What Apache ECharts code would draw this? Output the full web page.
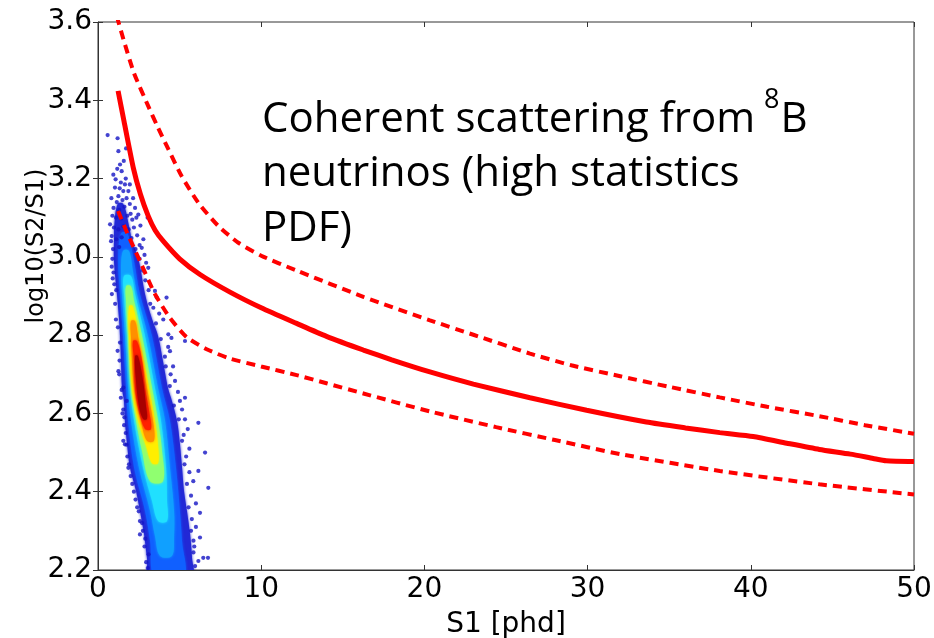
<!DOCTYPE html>
<html><head><meta charset="utf-8">
<script src="https://cdn.jsdelivr.net/npm/echarts@6/dist/echarts.min.js"></script>
<style>html,body{margin:0;padding:0;background:#fff}#c{width:934px;height:638px}</style>
</head><body><div id="c"></div>
<script>
// ---------- data ----------
const xTicks = [0, 10, 20, 30, 40, 50];
const yTicks = [2.2, 2.4, 2.6, 2.8, 3.0, 3.2, 3.4, 3.6];

// median (solid) and band (dashed) curves [S1, log10(S2/S1)]
const solidCurve = [[1.23,3.424],[1.6,3.345],[2.16,3.228],[2.6,3.160],[3.08,3.104],[3.5,3.068],[4.0,3.040],[5.0,2.995],[6.25,2.955],[8.09,2.910],[10,2.870],[12.17,2.830],[14,2.797],[16.26,2.762],[18,2.737],[20.34,2.706],[23,2.675],[26.47,2.640],[29.94,2.608],[33.6,2.578],[36,2.563],[38.1,2.551],[40.15,2.541],[42.2,2.524],[44.2,2.508],[46.1,2.496],[47.5,2.485],[48.3,2.479],[50,2.477]];
const upperDashed = [[1.15,3.615],[1.6,3.55],[2.2,3.47],[3.08,3.385],[3.59,3.338],[4.31,3.275],[5.13,3.206],[6.15,3.138],[7.37,3.079],[8.6,3.036],[10,3.003],[12.17,2.965],[16.26,2.898],[20.34,2.838],[23,2.801],[26.47,2.753],[29,2.723],[32,2.695],[35,2.668],[38.1,2.641],[41,2.617],[44.2,2.593],[47,2.570],[50,2.548]];
const lowerDashed = [[1.23,3.117],[1.8,3.06],[2.57,2.989],[3.49,2.905],[4.41,2.844],[5.43,2.795],[6.66,2.764],[8.09,2.740],[10,2.720],[12.17,2.698],[14,2.677],[16.26,2.651],[20.34,2.605],[24.4,2.565],[28,2.532],[32,2.496],[38.1,2.453],[44.2,2.419],[50,2.393]];

// density contours of the 8B PDF sample, outer -> inner; rows are [log10(S2/S1), S1 left, S1 right]
const contourBlue = [[3.135,1.20,1.55],[3.079,1.00,1.90],[3.040,0.98,2.10],[2.989,0.98,2.51],[2.905,1.16,2.88],[2.841,1.29,3.31],[2.798,1.35,3.68],[2.734,1.41,3.98],[2.665,1.47,4.29],[2.632,1.59,4.53],[2.581,1.65,4.84],[2.522,1.78,5.02],[2.461,1.96,5.15],[2.402,2.33,5.27],[2.351,2.57,5.45],[2.292,2.82,5.64],[2.231,3.00,5.76],[2.18,3.19,5.76]];
const contourMidBlue = [[3.060,1.41,1.80],[2.989,1.23,2.21],[2.905,1.35,2.57],[2.798,1.53,3.31],[2.665,1.72,3.92],[2.581,1.84,4.41],[2.461,2.21,4.78],[2.351,2.88,5.02],[2.274,3.19,5.15],[2.18,3.49,5.27]];
const contourLightBlue = [[3.015,1.53,1.90],[2.964,1.41,2.14],[2.905,1.47,2.39],[2.798,1.65,3.06],[2.665,1.84,3.68],[2.581,2.02,4.11],[2.461,2.51,4.41],[2.351,3.19,4.66],[2.287,3.49,4.66],[2.236,3.80,4.53]];
const contourCyan = [[2.951,1.59,2.02],[2.905,1.59,2.27],[2.798,1.78,2.88],[2.665,1.96,3.49],[2.581,2.21,3.86],[2.461,2.76,4.17],[2.376,3.31,4.23],[2.325,3.68,4.23]];
const contourGreen = [[2.925,1.72,2.02],[2.887,1.72,2.21],[2.798,1.84,2.70],[2.665,2.02,3.31],[2.581,2.33,3.68],[2.504,2.70,3.92],[2.427,3.19,3.98]];
const contourYellow = [[2.874,1.90,2.14],[2.798,1.90,2.51],[2.665,2.08,3.13],[2.581,2.45,3.49],[2.517,2.94,3.68],[2.473,3.31,3.68]];
const contourOrange = [[2.836,2.02,2.27],[2.798,2.02,2.45],[2.665,2.21,3.00],[2.581,2.63,3.37],[2.530,3.00,3.43]];
const contourRed = [[2.785,2.14,2.39],[2.734,2.21,2.70],[2.665,2.27,2.88],[2.606,2.51,3.13],[2.560,2.88,3.25]];
const contourDarkRed = [[2.747,2.27,2.45],[2.683,2.33,2.76],[2.619,2.51,2.94],[2.586,2.76,3.00]];

// sparse individual events around the dense region [S1, log10(S2/S1)]
const sparseEvents = [[0.59,3.311],[1.20,3.303],[1.25,3.27],[1.72,3.277],[1.35,3.236],[1.45,3.219],[0.94,3.21],[1.08,3.198],[1.65,3.185],[1.04,3.177],[1.55,3.168],[1.86,3.168],[1.25,3.155],[1.40,3.190],[1.15,3.140],[1.50,3.145],[1.75,3.150],[0.95,3.125],[1.30,3.120],[1.62,3.128],[1.95,3.135],[2.27,3.125],[2.47,3.108],[3.04,3.10],[1.10,3.100],[1.42,3.098],[1.80,3.105],[2.10,3.095],[0.74,3.083],[0.98,3.075],[1.25,3.070],[1.55,3.078],[1.88,3.070],[2.20,3.075],[0.84,3.053],[1.12,3.045],[1.45,3.050],[2.05,3.048],[2.40,3.055],[2.78,3.045],[0.92,3.020],[1.30,3.025],[2.30,3.020],[2.68,3.023],[0.88,2.995],[2.55,2.995],[3.08,2.972],[2.75,2.965],[0.95,2.960],[2.90,2.940],[1.00,2.930],[0.85,2.905],[3.10,2.915],
[1.33,3.175],[1.70,3.200],[1.18,3.225],[1.58,3.245],[0.82,3.150],[2.15,3.150],[2.00,3.110],[2.60,3.080],[0.88,3.105],[1.95,3.185],[2.35,3.100],[0.80,3.040],[2.55,3.030],[2.85,3.005],[2.95,2.985],[0.84,2.975],[0.90,2.945],
[3.49,2.913],[3.39,2.87],[3.6,2.896],[4.2,2.896],[4.0,2.84],[3.75,2.855],[4.31,2.802],[4.5,2.793],[4.3,2.77],[5.33,2.785],[4.41,2.759],[4.1,2.745],[4.72,2.683],[4.6,2.72],[4.45,2.70],[5.33,2.64],[4.9,2.655],[5.02,2.632],[5.15,2.61],[5.33,2.585],[6.15,2.576],[5.5,2.56],[5.25,2.545],[6.56,2.50],[5.6,2.51],[5.4,2.49],[6.15,2.453],[5.84,2.427],[5.6,2.45],[6.76,2.41],[5.7,2.39],[6.0,2.37],[6.25,2.346],[5.75,2.33],[6.0,2.31],[6.25,2.283],[5.9,2.26],[6.45,2.231],[6.74,2.231],[6.15,2.223],[5.95,2.21],[5.85,2.245],
[3.20,2.880],[3.55,2.830],[3.85,2.790],[4.15,2.720],[4.40,2.670],[4.65,2.620],[4.95,2.585],[5.15,2.530],[5.30,2.470],[5.45,2.420],[5.55,2.360],[5.70,2.300],[5.85,2.275],
[1.05,2.88],[1.10,2.84],[1.35,2.781],[1.20,2.76],[1.25,2.708],[1.32,2.735],[1.55,2.666],[1.40,2.64],[1.76,2.632],[1.50,2.60],[1.60,2.57],[1.65,2.521],[1.70,2.55],[1.55,2.53],[1.80,2.49],[1.86,2.461],[2.00,2.44],[2.20,2.40],[2.40,2.36],[2.57,2.325],[2.57,2.291],[2.75,2.30],[2.85,2.26],[2.95,2.22],[3.05,2.205],
[1.12,2.915],[1.22,2.820],[1.30,2.700],[1.45,2.660],[1.55,2.610],[1.62,2.590],[1.75,2.520],[1.90,2.470],[2.10,2.420],[2.30,2.380],[2.50,2.350],[2.70,2.320],[2.90,2.280],[3.10,2.240]];

// ---------- styling ----------
const contours = [contourBlue, contourMidBlue, contourLightBlue, contourCyan, contourGreen, contourYellow, contourOrange, contourRed, contourDarkRed];
const contourColors = ['#2228d6', '#1060ff', '#10a0ff', '#20e0ff', '#90ff70', '#ffee00', '#ff9000', '#ff2000', '#a80000'];

const chart = echarts.init(document.getElementById('c'), null, {renderer: 'canvas'});
const axisColor = '#333';
const tickFont = {fontFamily: 'DejaVu Sans', fontSize: 28, color: '#000'};

const option = {
  animation: false,
  backgroundColor: '#fff',
  grid: {left: 98, right: 20, top: 22, bottom: 68, show: true, borderColor: axisColor, borderWidth: 1,
         containLabel: false, outerBoundsMode: 'none'},
  xAxis: [
    {type: 'value', min: xTicks[0], max: xTicks[xTicks.length - 1], interval: 10, position: 'bottom',
     name: 'S1 [phd]', nameLocation: 'middle', nameGap: 41,
     nameTextStyle: {fontFamily: 'DejaVu Sans', fontSize: 28, color: '#000'},
     axisLine: {show: true, lineStyle: {color: axisColor}},
     axisTick: {show: true, inside: true, length: 5, lineStyle: {color: axisColor}},
     axisLabel: Object.assign({margin: 6}, tickFont),
     splitLine: {show: false}},
    {type: 'value', min: xTicks[0], max: xTicks[xTicks.length - 1], interval: 10, position: 'top',
     axisLine: {show: false}, axisTick: {show: true, inside: true, length: 5, lineStyle: {color: axisColor}},
     axisLabel: {show: false}, splitLine: {show: false}}
  ],
  yAxis: [
    {type: 'value', min: yTicks[0], max: yTicks[yTicks.length - 1], interval: 0.2, position: 'left',
     axisLine: {show: true, lineStyle: {color: axisColor}},
     axisTick: {show: true, inside: true, length: 5, lineStyle: {color: axisColor}},
     axisLabel: Object.assign({margin: 6, formatter: v => Number(v).toFixed(1)}, tickFont),
     splitLine: {show: false}},
    {type: 'value', min: yTicks[0], max: yTicks[yTicks.length - 1], interval: 0.2, position: 'right',
     axisLine: {show: false}, axisTick: {show: true, inside: true, length: 5, lineStyle: {color: axisColor}},
     axisLabel: {show: false}, splitLine: {show: false}}
  ],
  series: [
    {
      type: 'custom', name: 'PDF density', clip: true, z: 2,
      data: contours.map((c, i) => [i]),
      renderItem: function (params, api) {
        const rows = contours[params.dataIndex];
        const left = rows.map(r => api.coord([r[1], r[0]]));
        const right = rows.slice().reverse().map(r => api.coord([r[2], r[0]]));
        return {type: 'polygon', shape: {points: left.concat(right), smooth: 0.35},
                style: {fill: contourColors[params.dataIndex], shadowBlur: 3, shadowColor: contourColors[params.dataIndex]}};
      }
    },
    {type: 'scatter', name: 'events', data: sparseEvents, symbolSize: 4.2, z: 3,
     itemStyle: {color: '#1414c4'}, clip: true},
    {type: 'line', name: 'median', data: solidCurve, showSymbol: false, smooth: 0.2, z: 4, clip: true,
     lineStyle: {color: '#ff0000', width: 5}},
    {type: 'line', name: 'upper', data: upperDashed, showSymbol: false, smooth: 0.2, z: 4, clip: true,
     lineStyle: {color: '#ff0000', width: 4, type: [9, 6]}},
    {type: 'line', name: 'lower', data: lowerDashed, showSymbol: false, smooth: 0.2, z: 4, clip: true,
     lineStyle: {color: '#ff0000', width: 4, type: [9, 6]}}
  ]
};

// annotation text with a superscript
const annSize = 42, supSize = 27;
const annFont = annSize + 'px "Open Sans"';
const supFont = supSize + 'px "Open Sans"';
const ctx = document.createElement('canvas').getContext('2d');
const line1a = 'Coherent scattering from ';
ctx.font = annFont;
const w1 = ctx.measureText(line1a).width;
ctx.font = supFont;
const wSup = ctx.measureText('8').width;
option.graphic = [
  {type: 'text', x: 37, y: 246, rotation: Math.PI / 2,
   style: {text: 'log10(S2/S1)', font: '24px "DejaVu Sans"', fill: '#000', align: 'center', verticalAlign: 'middle'}},
  {type: 'group', x: 262, y: 0, children: [
    {type: 'text', x: 0, y: 99, style: {text: line1a, font: annFont, fill: '#000', verticalAlign: 'alphabetic'}},
    {type: 'text', x: w1 - 2, y: 87, style: {text: '8', font: supFont, fill: '#000', verticalAlign: 'alphabetic'}},
    {type: 'text', x: w1 + wSup - 1, y: 99, style: {text: 'B', font: annFont, fill: '#000', verticalAlign: 'alphabetic'}},
    {type: 'text', x: 0, y: 153, style: {text: 'neutrinos (high statistics', font: annFont, fill: '#000', verticalAlign: 'alphabetic'}},
    {type: 'text', x: 0, y: 208, style: {text: 'PDF)', font: annFont, fill: '#000', verticalAlign: 'alphabetic'}}
  ]}
];

chart.setOption(option);
</script></body></html>
